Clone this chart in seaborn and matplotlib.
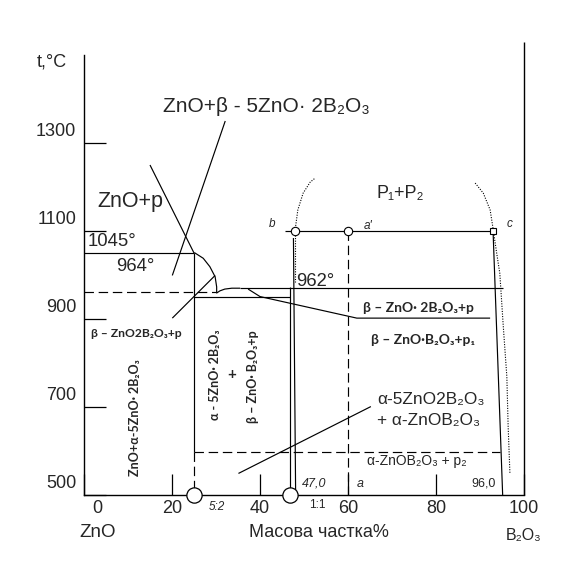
import numpy as np
import pandas as pd
import seaborn as sns
import matplotlib.pyplot as plt

# axis ticks
x_ticks = [0, 20, 40, 60, 80, 100]
y_ticks = [500, 700, 900, 1100, 1300]

# phase boundary lines (mass % B2O3, t in C)
liq_x = [25.07, 27.1, 28.6, 29.8, 30.15, 30.15, 30.9, 32.0, 33.6, 35.5]
liq_t = [1051, 1038, 1019, 996, 973, 959, 964, 968, 970, 970]
curve2_x = [37.3, 40.0, 62.0, 92.3]
curve2_t = [968, 951, 902, 902]
dome_l_x = [47.95, 48.6, 49.8, 51.4, 52.5]
dome_l_t = [1100, 1148, 1186, 1211, 1220]
dome_r_x = [88.9, 90.75, 92.3, 92.9, 93.8, 94.5, 95.3, 96.1, 96.4, 96.8]
dome_r_t = [1209, 1186, 1148, 1110, 1049, 1004, 882, 769, 655, 549]

t_1045 = 1050
t_964 = 961
t_962 = 970
t_52 = 950
t_low = 598
t_mon = 1100
x_52 = 25
x_11 = 46.8
x_a = 60
x_b = 47.95
x_c = 93.0

sns.set_theme(style="white")
plt.rcParams['font.family'] = ['Liberation Sans', 'DejaVu Sans']
plt.rcParams['lines.solid_capstyle'] = 'butt'

W, H = 583, 569
fig = plt.figure(figsize=(W / 100, H / 100), dpi=100)
ax = fig.add_axes([84 / W, (H - 495) / H, 440 / W, 440 / H])
ax.set_xlim(0, 100)
ax.set_ylim(500, 1500)
ax.set_facecolor('white')
for s in ['top', 'right']:
    ax.spines[s].set_visible(False)
for s in ['left', 'bottom']:
    ax.spines[s].set_color('black')
    ax.spines[s].set_linewidth(1.0)
ax.set_xticks(x_ticks)
ax.set_yticks(y_ticks)
ax.tick_params(axis='x', direction='in', length=15, width=0.9, color='black',
               bottom=True, labelbottom=False)
ax.tick_params(axis='y', direction='in', length=16, width=0.9, color='black',
               left=True, labelleft=False)

k = dict(color='black', lw=0.85, clip_on=False)
dash = dict(color='black', lw=0.85, dashes=(8, 4), clip_on=False)
dot = dict(color='black', lw=0.8, ls=(0, (1, 1.3)), clip_on=False)

# right border
ax.plot([100, 100], [500, 1530], color='black', lw=1.0, clip_on=False)

ax.plot([0, x_52], [t_1045, t_1045], **k)
ax.plot([x_52, x_52], [t_1045, t_low], **k)
ax.plot([x_52, x_52], [t_low, 500], **dash)
ax.plot(liq_x, liq_t, **k)
ax.plot([35.5, 95.2], [t_962, t_962], **k)
ax.plot(curve2_x, curve2_t, **k)
ax.plot([x_52, 46.9], [t_52, t_52], **k)
ax.plot([0, 30.1], [t_964, t_964], **dash)
ax.plot([x_52, 94.5], [t_low, t_low], **dash)
ax.plot([x_a, x_a], [t_mon, 500], **dash)
ax.plot([45.7, x_c], [t_mon, t_mon], **k)
ax.plot([46.9, 46.9], [973, 500], **k)
ax.plot([47.6, 48.1], [1084, 500], **k)
ax.plot([x_b, x_b], [1091, 984], **dot)
ax.plot([x_c, 95.15], [1091, 500], **k)
ax.plot(dome_l_x, dome_l_t, **dot)
ax.plot(dome_r_x, dome_r_t, **dot)

# leader lines
ax.plot([15, 25], [1250, 1050], **k)
ax.plot([32.1, 20.07], [1350, 999], **k)
ax.plot([29.8, 20.07], [999, 902], **k)
ax.plot([65.2, 35.1], [701, 549], **k)

# markers
ax.plot([x_52, x_11], [500, 500], 'o', ms=11, mfc='white', mec='black', mew=0.9,
        clip_on=False, zorder=5)
ax.plot([x_b, x_a], [t_mon, t_mon], 'o', ms=6, mfc='white', mec='black', mew=0.8,
        clip_on=False, zorder=5)
ax.plot([x_c], [t_mon], 's', ms=5, mfc='white', mec='black', mew=0.8,
        clip_on=False, zorder=5)

# tick labels
for v in y_ticks:
    ax.text(-1.8, v + 25, str(v), ha='right', va='center', fontsize=13, clip_on=False)
for v in x_ticks:
    ax.text(3 if v == 0 else v, 470, str(v), ha='center', va='center', fontsize=13,
            clip_on=False)

ax.text(-7.3, 1484, 't,°C', ha='center', va='center', fontsize=13)
ax.text(3, 414, 'ZnO', ha='center', va='center', fontsize=13.5, clip_on=False)
ax.text(53.4, 414, 'Масова частка%', ha='center', va='center', fontsize=13,
        clip_on=False)
ax.text(99.8, 409, 'B₂O₃', ha='center', va='center', fontsize=11.5, clip_on=False)

ax.text(18, 1382, 'ZnO+β - 5ZnO· 2B₂O₃', ha='left', va='center', fontsize=15)
ax.text(2.95, 1166, 'ZnO+p', ha='left', va='center', fontsize=15.5)
ax.text(0.9, 1075, '1045°', ha='left', va='center', fontsize=13.3)
ax.text(7.3, 1020, '964°', ha='left', va='center', fontsize=13.3)
ax.text(48.2, 986, '962°', ha='left', va='center', fontsize=13.3)
ax.text(71.8, 1186, 'P₁+P₂', ha='center', va='center', fontsize=13)
ax.text(42.7, 1116, 'b', ha='center', va='center', fontsize=8.5, style='italic')
ax.text(64.5, 1111, "a'", ha='center', va='center', fontsize=8.5, style='italic')
ax.text(96.8, 1116, 'c', ha='center', va='center', fontsize=8.5, style='italic')

bold = dict(fontweight='bold', family=['Lato', 'DejaVu Sans'])
ax.text(75.9, 925, 'β – ZnO· 2B₂O₃+p', ha='center', va='center', fontsize=10, **bold)
ax.text(77, 852, 'β – ZnO·B₂O₃+p₁', ha='center', va='center', fontsize=10, **bold)
ax.text(12, 868, 'β – ZnO2B₂O₃+p', ha='center', va='center', fontsize=8.7, **bold)
ax.text(11.6, 675, 'ZnO+α-5ZnO· 2B₂O₃', ha='center', va='center', fontsize=9,
        rotation=90, **bold)
ax.text(29.8, 773, 'α - 5ZnO· 2B₂O₃', ha='center', va='center', fontsize=9,
        rotation=90, **bold)
ax.text(33.6, 773, '+', ha='center', va='center', fontsize=11, **bold)
ax.text(38.4, 770, 'β – ZnO· B₂O₃+p', ha='center', va='center', fontsize=9,
        rotation=90, **bold)

ax.text(66.6, 716, 'α-5ZnO2B₂O₃', ha='left', va='center', fontsize=12.4)
ax.text(66.6, 670, '+ α-ZnOB₂O₃', ha='left', va='center', fontsize=12.4)
ax.text(75.7, 577, 'α-ZnOB₂O₃ + p₂', ha='center', va='center', fontsize=10)
ax.text(52.3, 527, '47,0', ha='center', va='center', fontsize=9, style='italic')
ax.text(62.7, 525, 'a', ha='center', va='center', fontsize=9, style='italic')
ax.text(90.9, 525, '96,0', ha='center', va='center', fontsize=9)
ax.text(30.2, 473, '5:2', ha='center', va='center', fontsize=8.5, style='italic',
        clip_on=False)
ax.text(53, 477, '1:1', ha='center', va='center', fontsize=8.5, clip_on=False)

fig.savefig('out.png', dpi=100, facecolor='white')
